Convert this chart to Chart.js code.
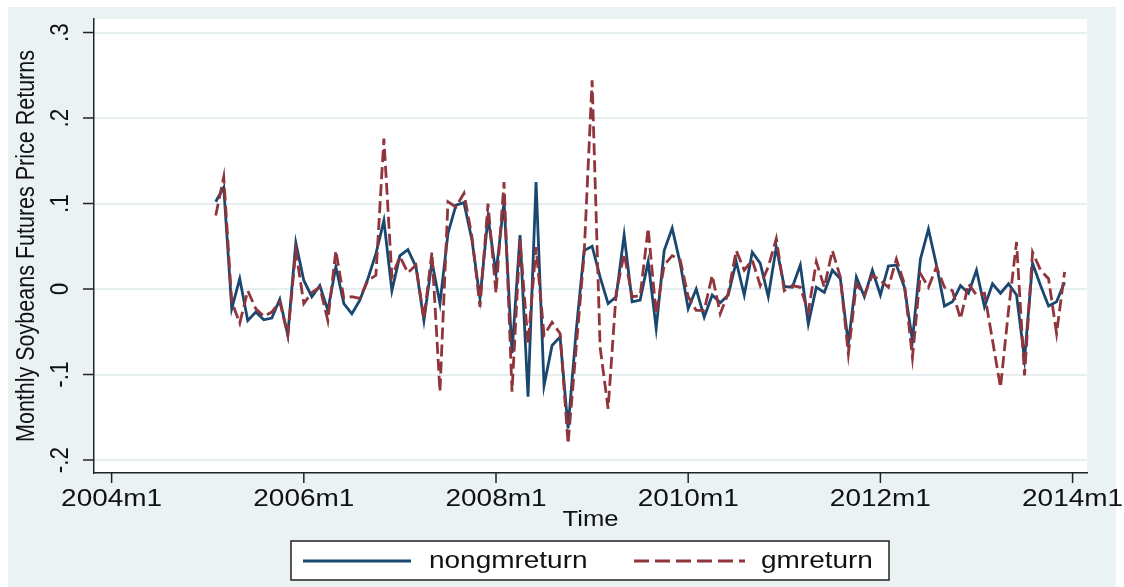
<!DOCTYPE html>
<html>
<head>
<meta charset="utf-8">
<script src="https://cdn.jsdelivr.net/npm/chart.js@4.4.0/dist/chart.umd.min.js"></script>
<style>
  html, body { margin: 0; padding: 0; background: #fff; }
  #wrap { width: 1124px; height: 587px; position: relative; }
</style>
</head>
<body>
<div id="wrap"><canvas id="c"></canvas></div>
<script>
// months counted from 2004m1 (=0); series start at 2005m2
const FIRST_MONTH = 13;

const NONGM_RETURN = [
  // 2005m2 - 2005m12
  0.102, 0.119, -0.023, 0.012, -0.037, -0.027, -0.036, -0.034, -0.012, -0.054, 0.054,
  // 2006
  0.010, -0.009, 0.004, -0.025, 0.026, -0.017, -0.029, -0.013, 0.012, 0.041, 0.080, -0.002,
  // 2007
  0.039, 0.046, 0.026, -0.037, 0.032, -0.017, 0.065, 0.098, 0.101, 0.057, -0.011, 0.084,
  // 2008
  0.018, 0.102, -0.075, 0.063, -0.126, 0.125, -0.113, -0.066, -0.056, -0.163, -0.050, 0.045,
  // 2009
  0.050, 0.014, -0.017, -0.009, 0.063, -0.015, -0.013, 0.032, -0.046, 0.045, 0.071, 0.030,
  // 2010
  -0.023, 0.000, -0.033, -0.007, -0.016, -0.007, 0.032, -0.007, 0.043, 0.030, -0.009, 0.049,
  // 2011
  0.003, 0.002, 0.028, -0.041, 0.002, -0.004, 0.022, 0.012, -0.064, 0.014, -0.009, 0.022,
  // 2012
  -0.007, 0.027, 0.028, 0.002, -0.060, 0.035, 0.070, 0.028, -0.020, -0.015, 0.004, -0.005,
  // 2013
  0.022, -0.021, 0.006, -0.005, 0.006, -0.007, -0.082, 0.030, 0.004, -0.020, -0.015, 0.008
];

const GM_RETURN = [
  0.086, 0.131, -0.015, -0.040, -0.002, -0.023, -0.032, -0.027, -0.015, -0.054, 0.045,
  -0.017, -0.004, 0.002, -0.037, 0.045, -0.011, -0.009, -0.011, 0.010, 0.016, 0.176, 0.014,
  0.038, 0.019, 0.028, -0.035, 0.043, -0.120, 0.102, 0.096, 0.112, 0.061, -0.021, 0.100,
  -0.005, 0.125, -0.120, 0.058, -0.064, 0.049, -0.054, -0.039, -0.052, -0.181, -0.070, 0.040,
  0.244, -0.068, -0.140, -0.005, 0.041, -0.009, -0.008, 0.071, -0.029, 0.028, 0.039, 0.034,
  -0.009, -0.025, -0.025, 0.016, -0.029, -0.005, 0.045, 0.022, 0.034, 0.004, 0.026, 0.059,
  -0.002, 0.004, 0.002, -0.027, 0.032, 0.002, 0.045, 0.014, -0.076, 0.006, -0.007, 0.016,
  0.010, 0.002, 0.035, 0.006, -0.080, 0.018, 0.002, 0.026, 0.002, -0.002, -0.035, 0.006,
  -0.007, -0.005, -0.060, -0.115, -0.025, 0.055, -0.101, 0.043, 0.022, 0.012, -0.052, 0.020
];

const X_TICKS       = [0, 24, 48, 72, 96, 120];
const X_TICK_LABELS = ['2004m1', '2006m1', '2008m1', '2010m1', '2012m1', '2014m1'];
const Y_TICKS       = [-0.2, -0.1, 0, 0.1, 0.2, 0.3];
const Y_TICK_LABELS = ['-.2', '-.1', '0', '.1', '.2', '.3'];
const SERIES_NAMES  = ['nongmreturn', 'gmreturn'];

const BLUE = '#1a476f';
const RED  = '#90353b';
const SX   = 1.165;   // the picture is stretched sideways
const FONT = '"Liberation Sans", Arial, sans-serif';

const toPoints = arr => arr.map((v, i) => ({ x: FIRST_MONTH + i, y: v }));

function txt(ctx, s, x, y, size, align, base, rot) {
  ctx.save();
  ctx.translate(x, y);
  ctx.scale(SX, 1);
  if (rot) ctx.rotate(-Math.PI / 2);
  ctx.font = size + 'px ' + FONT;
  ctx.textAlign = align;
  ctx.textBaseline = base;
  ctx.fillStyle = '#111';
  ctx.fillText(s, 0, 0);
  ctx.restore();
}

const stataFrame = {
  id: 'stataFrame',
  beforeDraw(chart) {
    const { ctx, chartArea: a } = chart;
    ctx.save();
    ctx.fillStyle = '#fff';
    ctx.fillRect(0, 0, chart.width, chart.height);
    ctx.fillStyle = '#eaf2f3';
    ctx.fillRect(8, 7, 1108, 580);
    ctx.fillStyle = '#fff';
    ctx.fillRect(a.left, a.top, a.right - a.left, a.bottom - a.top);
    ctx.restore();
  },
  afterDraw(chart) {
    const { ctx, chartArea: a, scales: { x, y } } = chart;
    ctx.save();
    ctx.strokeStyle = '#222';
    ctx.lineWidth = 1.5;
    // ticks
    Y_TICKS.forEach((v, i) => {
      const py = y.getPixelForValue(v);
      ctx.beginPath(); ctx.moveTo(a.left - 11, py); ctx.lineTo(a.left, py); ctx.stroke();
      txt(ctx, Y_TICK_LABELS[i], 61, py, 22.5, 'center', 'middle', true);
    });
    X_TICKS.forEach((v, i) => {
      const px = x.getPixelForValue(v);
      ctx.beginPath(); ctx.moveTo(px, a.bottom); ctx.lineTo(px, a.bottom + 10); ctx.stroke();
      txt(ctx, X_TICK_LABELS[i], px, 506, 24, 'center', 'alphabetic');
    });
    // axis titles
    txt(ctx, 'Monthly Soybeans Futures Price Returns', 27, (a.top + a.bottom) / 2, 21.5, 'center', 'middle', true);
    txt(ctx, 'Time', (a.left + a.right) / 2, 526, 22, 'center', 'alphabetic');

    // legend
    ctx.fillStyle = '#fff';
    ctx.fillRect(291, 541, 598, 39);
    ctx.strokeStyle = '#222';
    ctx.lineWidth = 1.5;
    ctx.strokeRect(291, 541, 598, 39);
    ctx.lineWidth = 2.8;
    ctx.strokeStyle = BLUE;
    ctx.beginPath(); ctx.moveTo(303, 561); ctx.lineTo(411, 561); ctx.stroke();
    ctx.strokeStyle = RED;
    ctx.setLineDash([15, 6]);
    ctx.beginPath(); ctx.moveTo(634, 561); ctx.lineTo(745, 561); ctx.stroke();
    ctx.setLineDash([]);
    txt(ctx, SERIES_NAMES[0], 429, 561, 24, 'left', 'middle');
    txt(ctx, SERIES_NAMES[1], 761, 561, 24, 'left', 'middle');
    ctx.restore();
  }
};

new Chart(document.getElementById('c'), {
  type: 'line',
  data: {
    datasets: [
      { label: SERIES_NAMES[0], data: toPoints(NONGM_RETURN), borderColor: BLUE,
        borderWidth: 2.8, pointRadius: 0, tension: 0, order: 1 },
      { label: SERIES_NAMES[1], data: toPoints(GM_RETURN), borderColor: RED,
        borderWidth: 2.8, borderDash: [12, 5], pointRadius: 0, tension: 0, order: 0 }
    ]
  },
  options: {
    responsive: true, maintainAspectRatio: false, animation: false,
    layout: { padding: { left: 94, right: 37, top: 19, bottom: 114 } },
    plugins: { legend: { display: false }, tooltip: { enabled: false } },
    scales: {
      x: {
        type: 'linear', min: -2.2, max: 121.8,
        afterBuildTicks: s => { s.ticks = X_TICKS.map(v => ({ value: v })); },
        ticks: { display: false },
        grid: { display: false, drawTicks: false },
        border: { display: true, color: '#222', width: 1.5 }
      },
      y: {
        min: -0.2152, max: 0.3158,
        afterBuildTicks: s => { s.ticks = Y_TICKS.map(v => ({ value: v })); },
        ticks: { display: false },
        grid: { color: '#e6eef1', lineWidth: 2, drawTicks: false },
        border: { display: true, color: '#222', width: 1.5 }
      }
    }
  },
  plugins: [stataFrame]
});
</script>
</body>
</html>
